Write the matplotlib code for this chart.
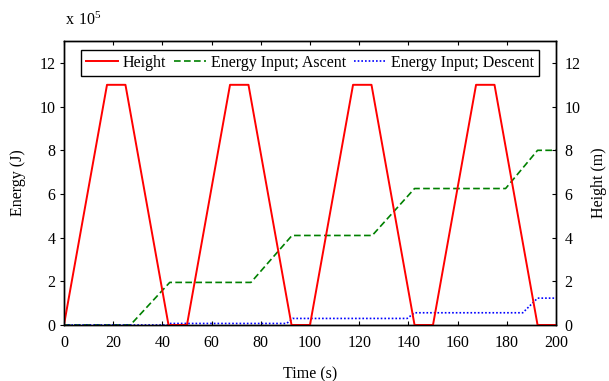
import numpy as np
import matplotlib
matplotlib.use("Agg")
import matplotlib.pyplot as plt

plt.rcParams['font.family'] = ['Liberation Serif', 'DejaVu Serif']
plt.rcParams['mathtext.fontset'] = 'custom'
plt.rcParams['mathtext.rm'] = 'Liberation Serif'
plt.rcParams['font.size'] = 11.5

# Height profile (m)
t_height = [0, 17.5, 25, 42.5, 50, 67.5, 75, 92.5, 100, 117.5, 125, 142.5, 150, 167.5, 175, 192.5, 200]
height = [0, 11, 11, 0, 0, 11, 11, 0, 0, 11, 11, 0, 0, 11, 11, 0, 0]

# Energy input during ascent (J)
t_asc = [0, 27, 43, 76, 92.7, 125.3, 142.5, 179.5, 192.5, 200]
e_asc = [0, 0, 1.95e5, 1.95e5, 4.1e5, 4.1e5, 6.25e5, 6.25e5, 8.0e5, 8.0e5]

# Energy input during descent (J)
t_desc = [0, 42, 43, 90.5, 93, 139.5, 142.5, 186.5, 192.5, 200]
e_desc = [0, 0, 0.07e5, 0.07e5, 0.3e5, 0.3e5, 0.56e5, 0.56e5, 1.23e5, 1.23e5]

scale = 1e5

fig = plt.figure(figsize=(6.09, 3.81), dpi=100)
ax = fig.add_axes([0.105, 0.147, 0.808, 0.745])
ax2 = ax.twinx()

l1, = ax2.plot(t_height, height, color='#ff0000', lw=1.4, label='Height')
l2, = ax.plot(t_asc, np.array(e_asc) / scale, color='#008000', lw=1.2, ls=(0, (4, 2)),
              label='Energy Input; Ascent')
l3, = ax.plot(t_desc, np.array(e_desc) / scale, color='#0000ff', lw=1.2, ls=(0, (1, 1.2)),
              label='Energy Input; Descent')

ax.set_xlim(0, 200)
ax.set_ylim(0, 13)
ax2.set_ylim(0, 13)
ax.set_xticks(np.arange(0, 201, 20))
ax.set_yticks(np.arange(0, 13, 2))
ax2.set_yticks(np.arange(0, 13, 2))

ax.tick_params(axis='x', direction='in', length=3, top=True, pad=7)
ax.tick_params(axis='y', direction='out', length=3, pad=3)
ax2.tick_params(axis='y', direction='in', length=3, pad=6)

for a in (ax, ax2):
    for s in a.spines.values():
        s.set_linewidth(1.0)

ax.set_xlabel('Time (s)', labelpad=11)
ax.set_ylabel('Energy (J)', labelpad=10)
ax2.set_ylabel('Height (m)', labelpad=8)

fig.text(0.107, 0.935, r'$\mathregular{x\ 10^{5}}$', fontsize=11.5)

leg = ax2.legend(handles=[l1, l2, l3], ncol=3, loc='upper center', bbox_to_anchor=(0.5, 0.985),
                 frameon=True, fancybox=False, edgecolor='black', framealpha=1,
                 handlelength=2.0, handletextpad=0.3, columnspacing=0.5,
                 borderpad=0.3, borderaxespad=0.3)
leg.get_frame().set_linewidth(1.0)

fig.savefig('out.png', dpi=100)
